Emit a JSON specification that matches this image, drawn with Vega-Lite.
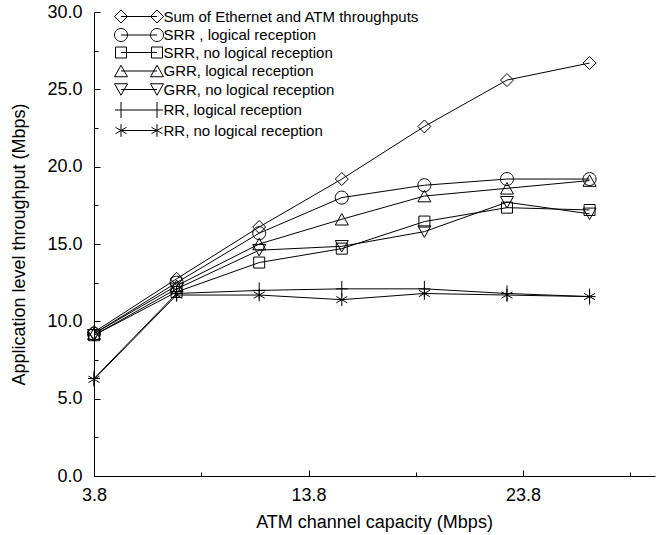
{
  "$schema": "https://vega.github.io/schema/vega-lite/v6.json",
  "width": 561,
  "height": 464,
  "autosize": {"type": "none"},
  "padding": {"left": 94, "top": 12, "right": 1, "bottom": 59},
  "background": "white",
  "config": {
    "view": {"stroke": null},
    "font": "Liberation Sans",
    "axis": {"grid": false, "domainColor": "black", "tickColor": "black", "labelColor": "black", "titleColor": "black", "labelFont": "Liberation Sans", "titleFont": "Liberation Sans", "labelFlush": false, "labelOverlap": false, "titleFontWeight": "normal"}
  },
  "data": {
    "values": [
      {"series": "Sum of Ethernet and ATM  throughputs", "x": 3.8, "y": 9.3},
      {"series": "Sum of Ethernet and ATM  throughputs", "x": 7.65, "y": 12.75},
      {"series": "Sum of Ethernet and ATM  throughputs", "x": 11.5, "y": 16.1},
      {"series": "Sum of Ethernet and ATM  throughputs", "x": 15.35, "y": 19.2},
      {"series": "Sum of Ethernet and ATM  throughputs", "x": 19.2, "y": 22.6},
      {"series": "Sum of Ethernet and ATM  throughputs", "x": 23.05, "y": 25.6},
      {"series": "Sum of Ethernet and ATM  throughputs", "x": 26.9, "y": 26.7},
      {"series": "SRR , logical reception", "x": 3.8, "y": 9.2},
      {"series": "SRR , logical reception", "x": 7.65, "y": 12.5},
      {"series": "SRR , logical reception", "x": 11.5, "y": 15.7},
      {"series": "SRR , logical reception", "x": 15.35, "y": 18.0},
      {"series": "SRR , logical reception", "x": 19.2, "y": 18.8},
      {"series": "SRR , logical reception", "x": 23.05, "y": 19.2},
      {"series": "SRR , logical reception", "x": 26.9, "y": 19.2},
      {"series": "SRR, no logical reception", "x": 3.8, "y": 9.1},
      {"series": "SRR, no logical reception", "x": 7.65, "y": 11.9},
      {"series": "SRR, no logical reception", "x": 11.5, "y": 13.8},
      {"series": "SRR, no logical reception", "x": 15.35, "y": 14.7},
      {"series": "SRR, no logical reception", "x": 19.2, "y": 16.45},
      {"series": "SRR, no logical reception", "x": 23.05, "y": 17.35},
      {"series": "SRR, no logical reception", "x": 26.9, "y": 17.2},
      {"series": "GRR, logical reception", "x": 3.8, "y": 9.2},
      {"series": "GRR, logical reception", "x": 7.65, "y": 12.3},
      {"series": "GRR, logical reception", "x": 11.5, "y": 15.0},
      {"series": "GRR, logical reception", "x": 15.35, "y": 16.6},
      {"series": "GRR, logical reception", "x": 19.2, "y": 18.1},
      {"series": "GRR, logical reception", "x": 23.05, "y": 18.6},
      {"series": "GRR, logical reception", "x": 26.9, "y": 19.1},
      {"series": "GRR, no logical reception", "x": 3.8, "y": 9.1},
      {"series": "GRR, no logical reception", "x": 7.65, "y": 12.1},
      {"series": "GRR, no logical reception", "x": 11.5, "y": 14.6},
      {"series": "GRR, no logical reception", "x": 15.35, "y": 14.85},
      {"series": "GRR, no logical reception", "x": 19.2, "y": 15.8},
      {"series": "GRR, no logical reception", "x": 23.05, "y": 17.7},
      {"series": "GRR, no logical reception", "x": 26.9, "y": 16.95},
      {"series": "RR, logical reception", "x": 3.8, "y": 6.3},
      {"series": "RR, logical reception", "x": 7.65, "y": 11.8},
      {"series": "RR, logical reception", "x": 11.5, "y": 12.0},
      {"series": "RR, logical reception", "x": 15.35, "y": 12.1},
      {"series": "RR, logical reception", "x": 19.2, "y": 12.1},
      {"series": "RR, logical reception", "x": 23.05, "y": 11.8},
      {"series": "RR, logical reception", "x": 26.9, "y": 11.6},
      {"series": "RR, no logical reception", "x": 3.8, "y": 6.25},
      {"series": "RR, no logical reception", "x": 7.65, "y": 11.7},
      {"series": "RR, no logical reception", "x": 11.5, "y": 11.7},
      {"series": "RR, no logical reception", "x": 15.35, "y": 11.4},
      {"series": "RR, no logical reception", "x": 19.2, "y": 11.8},
      {"series": "RR, no logical reception", "x": 23.05, "y": 11.7},
      {"series": "RR, no logical reception", "x": 26.9, "y": 11.6}
    ]
  },
  "layer": [
    {
      "mark": {"type": "line", "color": "black", "strokeWidth": 1},
      "encoding": {
        "x": {"field": "x", "type": "quantitative", "scale": {"domain": [3.8, 29.95], "nice": false, "zero": false},
          "axis": {"orient": "bottom", "values": [3.8, 13.8, 23.8], "format": ".1f", "tickSize": -6, "labelPadding": 16, "labelFontSize": 18, "title": "ATM channel capacity (Mbps)", "titleFontSize": 18, "titleBaseline": "alphabetic", "titleX": 280, "titleY": 51}},
        "y": {"field": "y", "type": "quantitative", "scale": {"domain": [0, 30], "nice": false, "zero": true},
          "axis": {"orient": "left", "values": [0, 5, 10, 15, 20, 25, 30], "format": ".1f", "tickSize": -6, "labelPadding": 18, "labelFontSize": 18, "title": "Application level throughput (Mbps)", "titleFontSize": 18, "titleX": -66, "titleY": 232}},
        "detail": {"field": "series", "type": "nominal"}
      }
    },
    {
      "mark": {"type": "point", "filled": false, "color": "black", "strokeWidth": 1, "opacity": 1, "size": 100},
      "encoding": {
        "x": {"field": "x", "type": "quantitative", "scale": {"domain": [3.8, 29.95], "nice": false, "zero": false},
          "axis": {"orient": "bottom", "values": [8.8, 18.8, 28.8], "labels": false, "domain": false, "tickSize": -4, "title": null}},
        "y": {"field": "y", "type": "quantitative", "scale": {"domain": [0, 30], "nice": false, "zero": true},
          "axis": {"orient": "left", "values": [2.5, 7.5, 12.5, 17.5, 22.5, 27.5], "labels": false, "domain": false, "tickSize": -4, "title": null}},
        "shape": {"field": "series", "type": "nominal", "legend": null,
          "scale": {
            "domain": ["Sum of Ethernet and ATM  throughputs", "SRR , logical reception", "SRR, no logical reception", "GRR, logical reception", "GRR, no logical reception", "RR, logical reception", "RR, no logical reception"],
            "range": [
              "M-1.3,0L0,-1.3L1.3,0L0,1.3Z",
              "M1.3,0A1.3,1.3,0,1,1,-1.3,0A1.3,1.3,0,1,1,1.3,0Z",
              "M-1.1,-1.1H1.1V1.1H-1.1Z",
              "M0,-1.15L1.3,1.15L-1.3,1.15Z",
              "M0,1.15L1.3,-1.15L-1.3,-1.15Z",
              "M-1.2,0H1.2M0,-1.6V1.6",
              "M0,-1.27V1.27M-1.1,-0.635L1.1,0.635M-1.1,0.635L1.1,-0.635"
            ]
          }
        }
      }
    },
    {
      "transform": [{"filter": "false"}],
      "mark": {"type": "point", "filled": false, "color": "black", "strokeWidth": 1, "size": 100},
      "encoding": {
        "x": {"field": "x", "type": "quantitative", "scale": {"domain": [3.8, 29.95], "nice": false, "zero": false}, "axis": null},
        "y": {"field": "y", "type": "quantitative", "scale": {"domain": [0, 30], "nice": false, "zero": true}, "axis": null},
        "shape": {"field": "series", "type": "nominal",
          "scale": {
            "domain": ["Sum of Ethernet and ATM  throughputs", "SRR , logical reception", "SRR, no logical reception", "GRR, logical reception", "GRR, no logical reception", "RR, logical reception", "RR, no logical reception"],
            "range": [
              "M-3.6,0H3.6M-4.9,0L-3.6,-1.3L-2.3,0L-3.6,1.3ZM2.3,0L3.6,-1.3L4.9,0L3.6,1.3Z",
              "M-3.6,0H3.6M-2.3,0A1.3,1.3,0,1,1,-4.9,0A1.3,1.3,0,1,1,-2.3,0ZM4.9,0A1.3,1.3,0,1,1,2.3,0A1.3,1.3,0,1,1,4.9,0Z",
              "M-3.6,0H3.6M-4.7,-1.1H-2.5V1.1H-4.7ZM2.5,-1.1H4.7V1.1H2.5Z",
              "M-3.6,0H3.6M-3.6,-1.15L-2.3,1.15L-4.9,1.15ZM3.6,-1.15L4.9,1.15L2.3,1.15Z",
              "M-3.6,0H3.6M-3.6,1.15L-2.3,-1.15L-4.9,-1.15ZM3.6,1.15L4.9,-1.15L2.3,-1.15Z",
              "M-4.8,0H4.8M-3.6,-1.6V1.6M3.6,-1.6V1.6",
              "M-3.6,0H3.6M-3.6,-1.27V1.27M-4.7,-0.635L-2.5,0.635M-4.7,0.635L-2.5,-0.635M3.6,-1.27V1.27M2.5,-0.635L4.7,0.635M2.5,0.635L4.7,-0.635"
            ]
          },
          "legend": {"title": null, "orient": "none", "legendX": 18, "legendY": -3, "padding": 0, "labelFontSize": 15, "labelColor": "black", "labelLimit": 0, "symbolSize": 100, "symbolStrokeWidth": 1, "symbolStrokeColor": "black", "symbolFillColor": "transparent", "symbolOpacity": 1, "symbolOffset": 19.5, "labelOffset": 17, "rowPadding": 1.5}
        }
      }
    }
  ],
  "resolve": {"scale": {"shape": "independent"}, "axis": {"x": "independent", "y": "independent"}}
}
